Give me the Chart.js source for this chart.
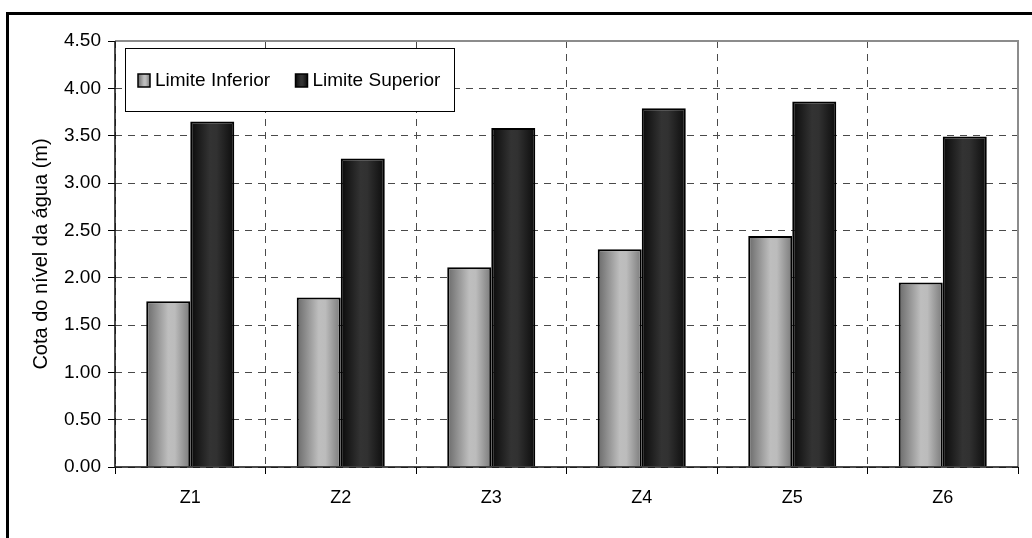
<!DOCTYPE html>
<html>
<head>
<meta charset="utf-8">
<title>Cota do nível da água</title>
<script src="https://cdn.jsdelivr.net/npm/chart.js@4/dist/chart.umd.min.js"></script>
<style>
  html, body { margin: 0; padding: 0; background: #fff; }
  canvas { display: block; }
</style>
</head>
<body>
<canvas id="nivelChart" width="1032" height="538"></canvas>
<script>
// data
const categories = ["Z1", "Z2", "Z3", "Z4", "Z5", "Z6"];
const limiteInferior = [1.75, 1.79, 2.11, 2.30, 2.44, 1.95];
const limiteSuperior = [3.65, 3.26, 3.58, 3.79, 3.86, 3.49];
const seriesNames = ["Limite Inferior", "Limite Superior"];
const yMin = 0;
const yMax = 4.5;
const yStep = 0.5;
const yTitle = "Cota do nível da água (m)";

const FONT = "'Liberation Sans', Arial, sans-serif";
const CAT_PCT = 0.585;

// horizontal shading like the old excel cylinders
const lightStops = [[0, "#6a6a6a"], [0.5, "#bebebe"], [0.65, "#bcbcbc"], [1, "#7a7a7a"]];
const darkStops = [[0, "#0a0a0a"], [0.45, "#333333"], [0.6, "#313131"], [1, "#0c0c0c"]];

function makeGradient(ctx, x0, x1, stops) {
  const g = ctx.createLinearGradient(x0, 0, x1, 0);
  stops.forEach(function (s) { g.addColorStop(s[0], s[1]); });
  return g;
}

function barFill(stops) {
  return function (context) {
    const chart = context.chart;
    const xs = chart.scales.x;
    if (context.type !== "data" || !xs) return stops[1][1];
    const catW = (xs.right - xs.left) / categories.length;
    const w = catW * CAT_PCT / 2;
    const c = xs.getPixelForValue(context.dataIndex);
    const left = context.datasetIndex === 0 ? c - w : c;
    if (!isFinite(left) || !isFinite(w) || w <= 0) return stops[1][1];
    return makeGradient(chart.ctx, left, left + w, stops);
  };
}

const framePlugin = {
  id: "frame",
  beforeDraw(chart) {
    const ctx = chart.ctx;
    ctx.save();
    ctx.fillStyle = "#fff";
    ctx.fillRect(0, 0, chart.width, chart.height);
    ctx.restore();
  },
  afterDatasetsDraw(chart) {
    // legend box inside the plot
    const ctx = chart.ctx;
    const area = chart.chartArea;
    const bx = area.left + 10.5, by = area.top + 7.5, bw = 329, bh = 63;
    ctx.save();
    ctx.fillStyle = "#fff";
    ctx.fillRect(bx, by, bw, bh);
    ctx.strokeStyle = "#000";
    ctx.lineWidth = 1;
    ctx.strokeRect(bx, by, bw, bh);
    ctx.font = "19px " + FONT;
    ctx.textBaseline = "middle";
    const itemX = [bx + 12.5, bx + 170];
    const stopsList = [lightStops, darkStops];
    const cy = by + 32;
    chart.data.datasets.forEach(function (ds, i) {
      const sx = itemX[i];
      ctx.fillStyle = makeGradient(ctx, sx, sx + 12, stopsList[i]);
      ctx.fillRect(sx, cy - 6.5, 12, 13);
      ctx.strokeStyle = "#000";
      ctx.lineWidth = 1.5;
      ctx.strokeRect(sx, cy - 6.5, 12, 13);
      ctx.fillStyle = "#000";
      ctx.fillText(ds.label, sx + 17, cy);
    });
    ctx.restore();
  },
  afterDraw(chart) {
    const ctx = chart.ctx;
    const area = chart.chartArea;
    ctx.save();
    // grey plot border on top and right
    ctx.strokeStyle = "#8c8c8c";
    ctx.lineWidth = 2;
    ctx.beginPath();
    ctx.moveTo(area.left, area.top);
    ctx.lineTo(area.right, area.top);
    ctx.lineTo(area.right, area.bottom);
    ctx.stroke();
    // solid axis lines
    ctx.strokeStyle = "#111";
    ctx.lineWidth = 1.5;
    ctx.beginPath();
    ctx.moveTo(area.left, area.top);
    ctx.lineTo(area.left, area.bottom);
    ctx.lineTo(area.right, area.bottom);
    ctx.stroke();
    // outer frame (only top and left show)
    ctx.fillStyle = "#000";
    ctx.fillRect(6, 12, chart.width - 6, 3);
    ctx.fillRect(6, 12, 3, chart.height - 12);
    ctx.restore();
  },
};

const ctxEl = document.getElementById("nivelChart");
const nivelChart = new Chart(ctxEl, {
  type: "bar",
  data: {
    labels: categories,
    datasets: [
      {
        label: seriesNames[0],
        data: limiteInferior,
        backgroundColor: barFill(lightStops),
        borderColor: "#000",
        borderWidth: 2,
      },
      {
        label: seriesNames[1],
        data: limiteSuperior,
        backgroundColor: barFill(darkStops),
        borderColor: "#000",
        borderWidth: 2,
      },
    ],
  },
  options: {
    responsive: false,
    animation: false,
    devicePixelRatio: 1,
    layout: { padding: { left: 0, top: 41, right: 14, bottom: 0 } },
    datasets: { bar: { categoryPercentage: CAT_PCT, barPercentage: 1 } },
    plugins: {
      legend: { display: false },
      tooltip: { enabled: false },
    },
    scales: {
      x: {
        grid: {
          offset: true,
          color: "#4a4a4a",
          lineWidth: 1,
          tickLength: 7,
          tickColor: "#000",
        },
        border: { display: false, dash: [7, 6] },
        ticks: { color: "#000", font: { family: FONT, size: 18 }, padding: 13 },
        afterFit: function (scale) { scale.height = 71; },
      },
      y: {
        min: yMin,
        max: yMax,
        grid: {
          color: "#4a4a4a",
          lineWidth: 1,
          tickLength: 7,
          tickColor: "#000",
        },
        border: { display: false, dash: [7, 6] },
        ticks: {
          stepSize: yStep,
          color: "#000",
          padding: 7,
          font: { family: FONT, size: 19 },
          callback: function (v) { return Number(v).toFixed(2); },
        },
        title: {
          display: true,
          text: yTitle,
          color: "#000",
          font: { family: FONT, size: 20 },
          padding: { top: 29, bottom: 0 },
        },
        afterFit: function (scale) { scale.width = 115; },
      },
    },
  },
  plugins: [framePlugin],
});
</script>
</body>
</html>
